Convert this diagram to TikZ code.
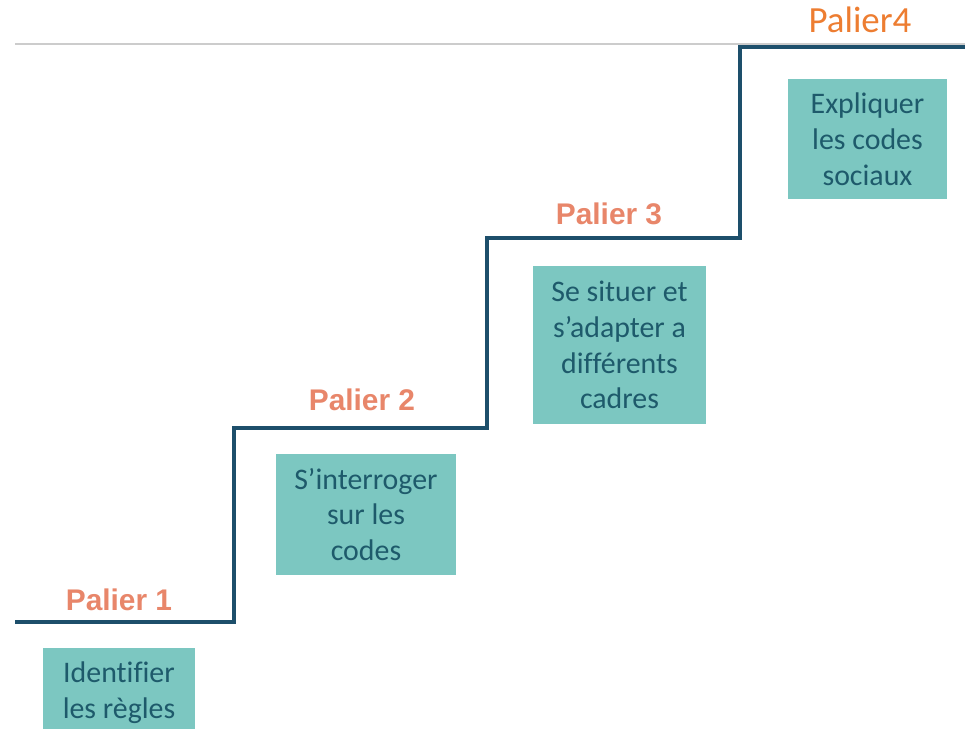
\documentclass[tikz,border=0pt]{standalone}
\usepackage{fontspec}
\setmainfont{Carlito}[Ligatures=NoCommon]
\newfontfamily\labelfont{Liberation Sans}
\usepackage{xcolor}
\usetikzlibrary{positioning,calc}
\definecolor{stairblue}{HTML}{1D4F6B}
\definecolor{palsalmon}{HTML}{E8866A}
\definecolor{palorange}{HTML}{ED7D31}
\definecolor{boxteal}{HTML}{7CC7C1}
\definecolor{boxtext}{HTML}{1E5A6B}

\begin{document}
\begin{tikzpicture}[
    x=0.02cm, y=-0.02cm,
    stepbox/.style={rectangle, fill=boxteal, text=boxtext, align=center, font=\fontsize{17}{20.4}\selectfont, inner sep=0pt},
    palier/.style={font=\labelfont\bfseries\fontsize{17}{20}\selectfont, text=palsalmon},
    stair/.style={line width=2.6pt, stairblue, line join=miter}
]
    \useasboundingbox (0,0) rectangle (965,728);
    \clip (0,0) rectangle (965,728);

    % Top rule
    \draw[black!20, line width=0.6pt] (15,44) -- (965,44);

    % Staircase
    \draw[stair] (15,622) -- (234,622) -- (234,428) -- (487,428) -- (487,238)
        -- (740,238) -- (740,47) -- (968,47);

    % Labels
    \node[palier] (p1) at (119,600) {Palier 1};
    \node[palier] (p2) at (362,400) {Palier 2};
    \node[palier] (p3) at (609,214) {Palier 3};
    \node[font=\fontsize{21}{24}\selectfont, text=palorange] (p4) at (860,20) {Palier4};

    % Boxes
    \node[stepbox, minimum width=152*0.02cm, minimum height=90*0.02cm] (b1) at (119,693) {Identifier\\les règles};
    \node[stepbox, minimum width=180*0.02cm, minimum height=121*0.02cm] (b2) at (366,514.5) {S’interroger\\sur les\\codes};
    \node[stepbox, minimum width=173*0.02cm, minimum height=158*0.02cm] (b3) at (619.5,345) {Se situer et\\s’adapter a\\différents\\cadres};
    \node[stepbox, minimum width=159*0.02cm, minimum height=120*0.02cm] (b4) at (867.5,139) {Expliquer\\les codes\\sociaux};
\end{tikzpicture}
\end{document}
